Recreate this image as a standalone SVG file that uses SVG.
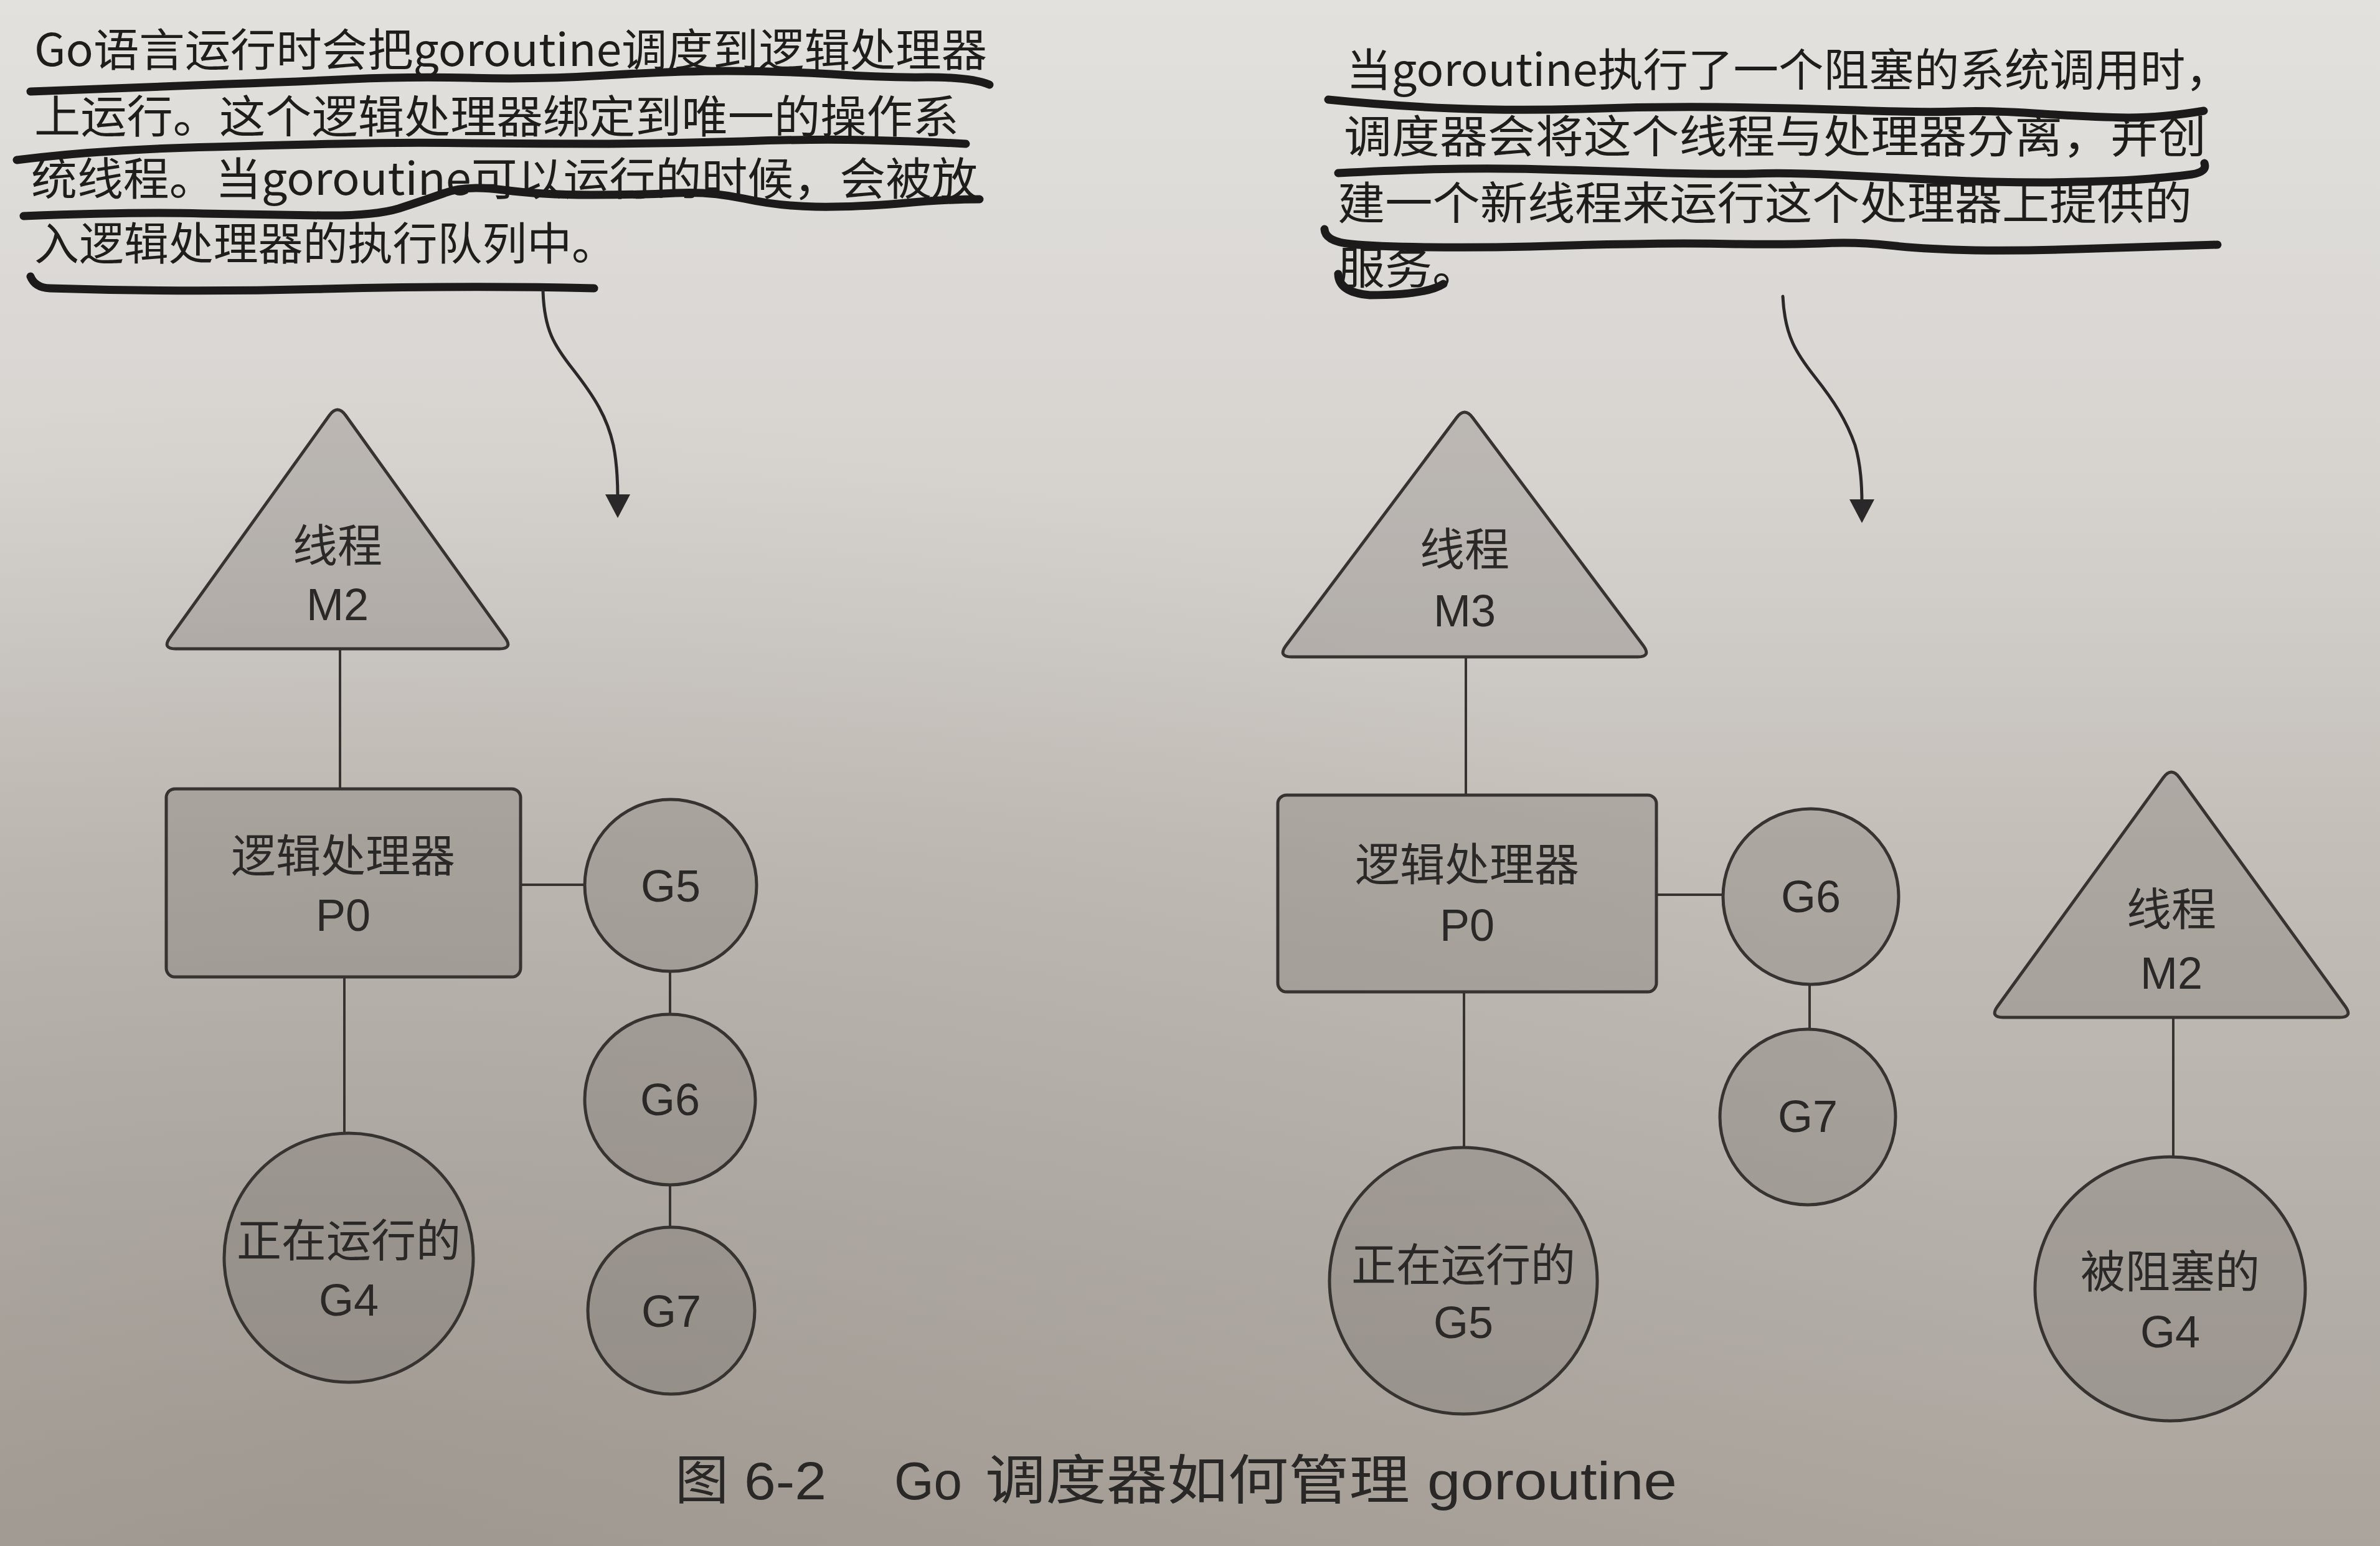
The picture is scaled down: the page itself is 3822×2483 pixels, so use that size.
<svg xmlns="http://www.w3.org/2000/svg" width="3822" height="2483" viewBox="0 0 3822 2483">
  <defs>
    <linearGradient id="paper" x1="0" y1="0" x2="0" y2="1">
      <stop offset="0" stop-color="#e3e1de"/>
      <stop offset="0.3" stop-color="#d7d4d0"/>
      <stop offset="0.55" stop-color="#c3beb8"/>
      <stop offset="1" stop-color="#aaa49d"/>
    </linearGradient>
    <radialGradient id="shade" cx="0.15" cy="0.95" r="0.7">
      <stop offset="0" stop-color="#7a736c" stop-opacity="0.25"/>
      <stop offset="1" stop-color="#7a736c" stop-opacity="0"/>
    </radialGradient>
    <marker id="head" markerUnits="userSpaceOnUse" markerWidth="44" markerHeight="44" viewBox="0 0 40 44" refX="6" refY="22" orient="auto">
      <path d="M0,2 L38,22 L0,42 Z" fill="#2a2828"/>
    </marker>
    <style>
      .shape { fill: #6e6862; fill-opacity: 0.27; stroke: #363331; stroke-width: 5; stroke-linejoin: round; }
      .link { stroke: #363331; stroke-width: 4; fill: none; }
      .label { font-family: "Liberation Sans", "Noto Sans CJK SC", sans-serif; font-size: 72px; fill: #2b2927; text-anchor: middle; }
      .note { font-family: "Noto Sans CJK SC", "Liberation Sans", sans-serif; font-size: 72px; fill: #1f1d1c; }
      .ink { stroke: #1c1a1a; stroke-width: 13; fill: none; stroke-linecap: round; stroke-linejoin: round; }
      .pen { stroke: #2a2828; stroke-width: 5; fill: none; stroke-linecap: round; }
      .caption { font-family: "Liberation Sans", "Noto Sans CJK SC", sans-serif; font-size: 86px; fill: #2a2826; }
    </style>
  </defs>

  <!-- page -->
  <rect x="0" y="0" width="3822" height="2483" fill="url(#paper)"/>
  <rect x="0" y="0" width="3822" height="2483" fill="url(#shade)"/>

  <!-- handwritten note, left -->
  <g id="note-left">
    <text class="note" x="55" y="106" textLength="1530" lengthAdjust="spacingAndGlyphs">Go语言运行时会把goroutine调度到逻辑处理器</text>
    <text class="note" x="55" y="213" textLength="1485" lengthAdjust="spacingAndGlyphs">上运行。这个逻辑处理器绑定到唯一的操作系</text>
    <text class="note" x="50" y="313" textLength="1520" lengthAdjust="spacingAndGlyphs">统线程。当goroutine可以运行的时候，会被放</text>
    <text class="note" x="55" y="417" textLength="935" lengthAdjust="spacingAndGlyphs">入逻辑处理器的执行队列中。</text>
    <path class="ink" d="M49,147 Q250,140 365,135 Q480,131 565,127 Q651,123 755,125 Q860,128 972,121 Q1085,114 1167,114 Q1250,114 1335,119 Q1420,125 1490,124 Q1560,124 1589,136"/>
    <path class="ink" d="M27,257 Q108,247 179,243 Q250,238 342,236 Q434,233 543,231 Q651,228 760,230 Q868,231 977,231 Q1085,230 1194,227 Q1302,223 1391,225 Q1480,227 1551,231"/>
    <path class="ink" d="M38,347 Q217,340 326,343 Q434,345 517,346 Q600,347 640,335 Q680,322 714,310 Q748,297 808,305 Q868,313 949,313 Q1030,313 1085,310 Q1139,307 1195,319 Q1250,331 1309,332 Q1367,333 1443,327 Q1518,320 1573,320"/>
    <path class="ink" d="M49,444 Q56,462 80,463 Q300,470 520,464 Q760,458 954,463"/>
    <path class="pen" marker-end="url(#head)" d="M872,468 C874,530 890,555 920,593 C955,638 975,670 985,715 C991,745 992,770 992,800"/>
  </g>

  <!-- handwritten note, right -->
  <g id="note-right">
    <text class="note" x="2162" y="138" textLength="1420" lengthAdjust="spacingAndGlyphs">当goroutine执行了一个阻塞的系统调用时，</text>
    <text class="note" x="2158" y="245" textLength="1385" lengthAdjust="spacingAndGlyphs">调度器会将这个线程与处理器分离，并创</text>
    <text class="note" x="2148" y="352" textLength="1372" lengthAdjust="spacingAndGlyphs">建一个新线程来运行这个处理器上提供的</text>
    <text class="note" x="2148" y="456" textLength="228" lengthAdjust="spacingAndGlyphs">服务。</text>
    <path class="ink" d="M2133,160 Q2232,170 2330,174 Q2429,178 2539,175 Q2649,171 2759,172 Q2869,173 2979,177 Q3088,181 3143,179 Q3198,177 3281,183 Q3363,188 3418,189 Q3473,189 3539,178"/>
    <path class="ink" d="M2149,278 Q2265,272 2347,271 Q2429,270 2512,273 Q2594,275 2677,278 Q2759,280 2814,279 Q2869,277 2951,281 Q3033,285 3116,289 Q3198,293 3281,293 Q3363,292 3424,289 Q3484,285 3520,280 Q3545,276 3540,262"/>
    <path class="ink" d="M2127,368 Q2128,388 2170,392 Q2210,396 2292,397 Q2375,398 2457,396 Q2539,393 2622,392 Q2704,390 2787,392 Q2869,393 2924,391 Q2979,388 3034,394 Q3088,400 3171,402 Q3253,403 3336,400 Q3418,397 3561,393"/>
    <path class="ink" d="M2149,440 Q2150,470 2200,474 Q2290,474 2318,456"/>
    <path class="pen" marker-end="url(#head)" d="M2863,476 C2866,540 2885,568 2915,606 C2945,644 2965,675 2979,715 C2988,745 2990,775 2990,808"/>
  </g>

  <!-- connectors -->
  <g id="connectors">
    <line class="link" x1="546" y1="1042" x2="546" y2="1267"/>
    <line class="link" x1="836" y1="1421" x2="938" y2="1421"/>
    <line class="link" x1="1076" y1="1560" x2="1076" y2="1630"/>
    <line class="link" x1="1076" y1="1901" x2="1076" y2="1972"/>
    <line class="link" x1="553" y1="1569" x2="553" y2="1820"/>
    <line class="link" x1="2354" y1="1055" x2="2354" y2="1277"/>
    <line class="link" x1="2660" y1="1437" x2="2767" y2="1437"/>
    <line class="link" x1="2906" y1="1580" x2="2906" y2="1654"/>
    <line class="link" x1="2351" y1="1593" x2="2351" y2="1843"/>
    <line class="link" x1="3490" y1="1634" x2="3490" y2="1858"/>
  </g>

  <!-- left: M2 / P0 running G4, queue G5 G6 G7 -->
  <g id="m2-left">
    <path class="shape" d="M529,667 Q542,649 555,667 L811,1024 Q824,1042 802,1042 L282,1042 Q260,1042 273,1024 Z"/>
    <text class="label" x="542" y="902">线程</text>
    <text class="label" x="542" y="996">M2</text>
  </g>
  <g id="p0-left">
    <rect class="shape" x="267" y="1267" width="569" height="302" rx="14"/>
    <text class="label" x="551" y="1400">逻辑处理器</text>
    <text class="label" x="551" y="1495">P0</text>
  </g>
  <g id="g5-left">
    <circle class="shape" cx="1077" cy="1422" r="138"/>
    <text class="label" x="1077" y="1448">G5</text>
  </g>
  <g id="g6-left">
    <circle class="shape" cx="1076" cy="1766" r="137"/>
    <text class="label" x="1076" y="1791">G6</text>
  </g>
  <g id="g7-left">
    <circle class="shape" cx="1078" cy="2105" r="134"/>
    <text class="label" x="1078" y="2131">G7</text>
  </g>
  <g id="g4-left">
    <ellipse class="shape" cx="560" cy="2020" rx="200" ry="200"/>
    <text class="label" x="560" y="2018">正在运行的</text>
    <text class="label" x="560" y="2113">G4</text>
  </g>

  <!-- right: M3 / P0 running G5, queue G6 G7; M2 blocked with G4 -->
  <g id="m3">
    <path class="shape" d="M2339,671 Q2352,653 2365,671 L2639,1037 Q2652,1055 2630,1055 L2074,1055 Q2052,1055 2065,1037 Z"/>
    <text class="label" x="2352" y="908">线程</text>
    <text class="label" x="2352" y="1006">M3</text>
  </g>
  <g id="p0-right">
    <rect class="shape" x="2052" y="1277" width="608" height="316" rx="14"/>
    <text class="label" x="2356" y="1414">逻辑处理器</text>
    <text class="label" x="2356" y="1511">P0</text>
  </g>
  <g id="g6-right">
    <circle class="shape" cx="2908" cy="1440" r="141"/>
    <text class="label" x="2908" y="1465">G6</text>
  </g>
  <g id="g7-right">
    <circle class="shape" cx="2903" cy="1794" r="141"/>
    <text class="label" x="2903" y="1818">G7</text>
  </g>
  <g id="g5-right">
    <ellipse class="shape" cx="2350" cy="2057" rx="215" ry="214"/>
    <text class="label" x="2350" y="2057">正在运行的</text>
    <text class="label" x="2350" y="2149">G5</text>
  </g>
  <g id="m2-right">
    <path class="shape" d="M3474,1249 Q3487,1231 3500,1249 L3766,1616 Q3779,1634 3757,1634 L3217,1634 Q3195,1634 3208,1616 Z"/>
    <text class="label" x="3487" y="1486">线程</text>
    <text class="label" x="3487" y="1588">M2</text>
  </g>
  <g id="g4-right">
    <ellipse class="shape" cx="3485" cy="2070" rx="217" ry="212"/>
    <text class="label" x="3485" y="2068">被阻塞的</text>
    <text class="label" x="3485" y="2164">G4</text>
  </g>

  <!-- figure caption -->
  <g id="caption">
    <text class="caption" x="1084" y="2408">图</text>
    <text class="caption" x="1195" y="2408" textLength="132" lengthAdjust="spacingAndGlyphs">6-2</text>
    <text class="caption" x="1436" y="2408" textLength="109" lengthAdjust="spacingAndGlyphs">Go</text>
    <text class="caption" x="1582" y="2408" textLength="682" lengthAdjust="spacingAndGlyphs">调度器如何管理</text>
    <text class="caption" x="2292" y="2408" textLength="401" lengthAdjust="spacingAndGlyphs">goroutine</text>
  </g>
</svg>
